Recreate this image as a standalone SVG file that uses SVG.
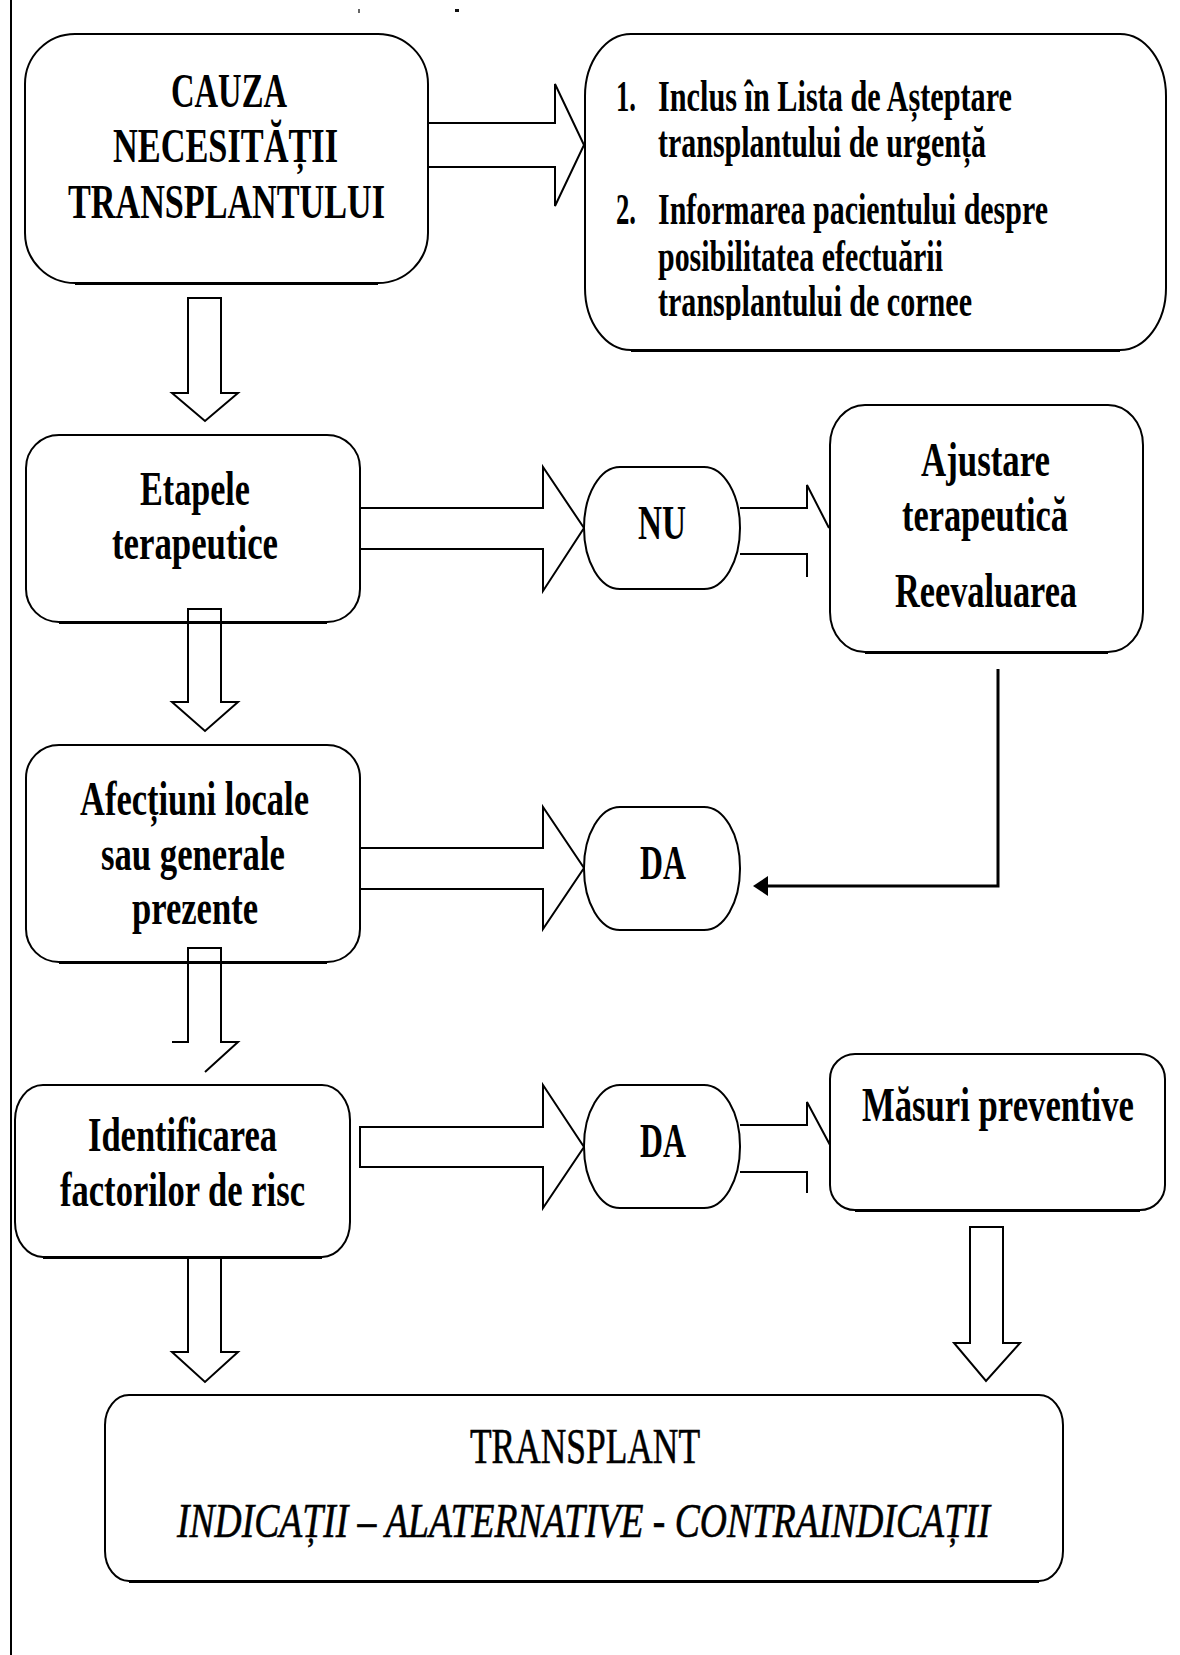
<svg xmlns="http://www.w3.org/2000/svg" width="1180" height="1655" viewBox="0 0 1180 1655">
  <style>
    .box { fill: #fff; stroke: #000; stroke-width: 2; }
    .shade { stroke: #000; stroke-width: 2; }
    .arr { fill: none; stroke: #000; stroke-width: 2; stroke-linejoin: miter; }
    .fb { fill: none; stroke: #000; stroke-width: 3; }
    .t { font-family: "Liberation Serif", "Times New Roman", serif; font-weight: bold; font-size: 48px; fill: #000; }
    .s { font-size: 44px; }
    .n { font-weight: normal; font-size: 50px; stroke: #000; stroke-width: 0.6; }
    .i { font-weight: normal; font-style: italic; font-size: 48px; stroke: #000; stroke-width: 0.6; }
  </style>
  <defs>
    <clipPath id="cutLast"><rect x="600" y="280" width="500" height="40"/></clipPath>
  </defs>

  <rect width="1180" height="1655" fill="#fff"/>
  <!-- margin rule and stray marks -->
  <line x1="11" y1="0" x2="11" y2="1655" stroke="#000" stroke-width="2"/>
  <rect x="358" y="9" width="2" height="4" fill="#666"/>
  <rect x="455" y="9" width="4" height="3" fill="#111"/>

  <g id="node-cauza">
    <rect class="box" x="25" y="34" width="403" height="249" rx="50" ry="50"/>
    <line class="shade" x1="75" y1="284" x2="378" y2="284"/>
    <text class="t" x="171" y="107" textLength="116" lengthAdjust="spacingAndGlyphs">CAUZA</text>
    <text class="t" x="113" y="162" textLength="225" lengthAdjust="spacingAndGlyphs">NECESITĂȚII</text>
    <text class="t" x="68" y="218" textLength="317" lengthAdjust="spacingAndGlyphs">TRANSPLANTULUI</text>
  </g>

  <g id="node-lista">
    <rect class="box" x="585" y="34" width="581" height="316" rx="46" ry="62"/>
    <line class="shade" x1="631" y1="351" x2="1120" y2="351"/>
    <text class="t s" x="616" y="111" textLength="20" lengthAdjust="spacingAndGlyphs">1.</text>
    <text class="t s" x="658" y="111" textLength="354" lengthAdjust="spacingAndGlyphs">Inclus în Lista de Așteptare</text>
    <text class="t s" x="658" y="157" textLength="328" lengthAdjust="spacingAndGlyphs">transplantului de urgență</text>
    <text class="t s" x="616" y="224" textLength="20" lengthAdjust="spacingAndGlyphs">2.</text>
    <text class="t s" x="658" y="224" textLength="390" lengthAdjust="spacingAndGlyphs">Informarea pacientului despre</text>
    <text class="t s" x="658" y="271" textLength="285" lengthAdjust="spacingAndGlyphs">posibilitatea efectuării</text>
    <text class="t s" x="658" y="316" textLength="314" lengthAdjust="spacingAndGlyphs" clip-path="url(#cutLast)">transplantului de cornee</text>
  </g>

  <g id="node-etapele">
    <rect class="box" x="26" y="435" width="334" height="187" rx="33" ry="33"/>
    <line class="shade" x1="59" y1="623" x2="327" y2="623"/>
    <text class="t" x="140" y="505" textLength="110" lengthAdjust="spacingAndGlyphs">Etapele</text>
    <text class="t" x="112" y="559" textLength="166" lengthAdjust="spacingAndGlyphs">terapeutice</text>
  </g>

  <g id="node-nu">
    <rect class="box" x="584" y="467" width="156" height="122" rx="36" ry="61"/>
    <text class="t" x="638" y="539" textLength="48" lengthAdjust="spacingAndGlyphs">NU</text>
  </g>

  <g id="node-ajustare">
    <rect class="box" x="830" y="405" width="313" height="247" rx="35" ry="40"/>
    <line class="shade" x1="865" y1="653" x2="1108" y2="653"/>
    <text class="t" x="921" y="476" textLength="129" lengthAdjust="spacingAndGlyphs">Ajustare</text>
    <text class="t" x="902" y="531" textLength="166" lengthAdjust="spacingAndGlyphs">terapeutică</text>
    <text class="t" x="895" y="607" textLength="182" lengthAdjust="spacingAndGlyphs">Reevaluarea</text>
  </g>

  <g id="node-afectiuni">
    <rect class="box" x="26" y="745" width="334" height="217" rx="33" ry="33"/>
    <line class="shade" x1="59" y1="963" x2="327" y2="963"/>
    <text class="t" x="80" y="815" textLength="229" lengthAdjust="spacingAndGlyphs">Afecțiuni locale</text>
    <text class="t" x="101" y="870" textLength="184" lengthAdjust="spacingAndGlyphs">sau generale</text>
    <text class="t" x="132" y="924" textLength="126" lengthAdjust="spacingAndGlyphs">prezente</text>
  </g>

  <g id="node-da1">
    <rect class="box" x="584" y="807" width="156" height="123" rx="36" ry="61"/>
    <text class="t" x="640" y="879" textLength="46" lengthAdjust="spacingAndGlyphs">DA</text>
  </g>

  <g id="node-identificarea">
    <rect class="box" x="15" y="1085" width="335" height="172" rx="28" ry="35"/>
    <line class="shade" x1="43" y1="1258" x2="322" y2="1258"/>
    <text class="t" x="88" y="1151" textLength="189" lengthAdjust="spacingAndGlyphs">Identificarea</text>
    <text class="t" x="60" y="1206" textLength="245" lengthAdjust="spacingAndGlyphs">factorilor de risc</text>
  </g>

  <g id="node-da2">
    <rect class="box" x="584" y="1085" width="156" height="123" rx="36" ry="61"/>
    <text class="t" x="640" y="1157" textLength="46" lengthAdjust="spacingAndGlyphs">DA</text>
  </g>

  <g id="node-masuri">
    <rect class="box" x="830" y="1054" width="335" height="156" rx="25" ry="25"/>
    <line class="shade" x1="855" y1="1211" x2="1140" y2="1211"/>
    <text class="t" x="862" y="1121" textLength="272" lengthAdjust="spacingAndGlyphs">Măsuri preventive</text>
  </g>

  <g id="node-transplant">
    <rect class="box" x="105" y="1395" width="958" height="186" rx="24" ry="30"/>
    <line class="shade" x1="129" y1="1582" x2="1039" y2="1582"/>
    <text class="t n" x="470" y="1463" textLength="230" lengthAdjust="spacingAndGlyphs">TRANSPLANT</text>
    <text class="t i" x="177" y="1537" textLength="813" lengthAdjust="spacingAndGlyphs">INDICAȚII – ALATERNATIVE - CONTRAINDICAȚII</text>
  </g>

  <g id="connectors">
    <!-- block arrows -->
    <path class="arr" d="M428,123 H555 V84 L584,145 L555,206 V167 H428"/>
    <path class="arr" d="M188,298 H221 V393 H238 L205,421 L172,393 H188 Z"/>
    <path class="arr" d="M360,508 H543 V467 L584,528 L543,591 V549 H360"/>
    <path class="arr" d="M740,508 H807 V485 L829,528 M740,554 H807 V577"/>
    <path class="arr" d="M188,609 H221 V702 H238 L205,731 L172,702 H188 Z"/>
    <path class="arr" d="M360,848 H543 V807 L584,868 L543,929 V889 H360"/>
    <path class="arr" d="M172,1042 H188 V948 H221 V1042 H238 L205,1072"/>
    <path class="arr" d="M360,1127 H543 V1085 L584,1147 L543,1208 V1167 H360 Z"/>
    <path class="arr" d="M740,1125 H807 V1102 L830,1145 M740,1172 H807 V1193"/>
    <path class="arr" d="M188,1257 V1352 H172 L205,1382 L238,1352 H221 V1257"/>
    <path class="arr" d="M970,1227 H1003 V1343 H1020 L986,1381 L954,1343 H970 Z"/>
    <!-- feedback line -->
    <path class="fb" d="M998,669 V886 H766"/>
    <polygon points="753,886 768,876 768,896" fill="#000"/>
  </g>
</svg>
